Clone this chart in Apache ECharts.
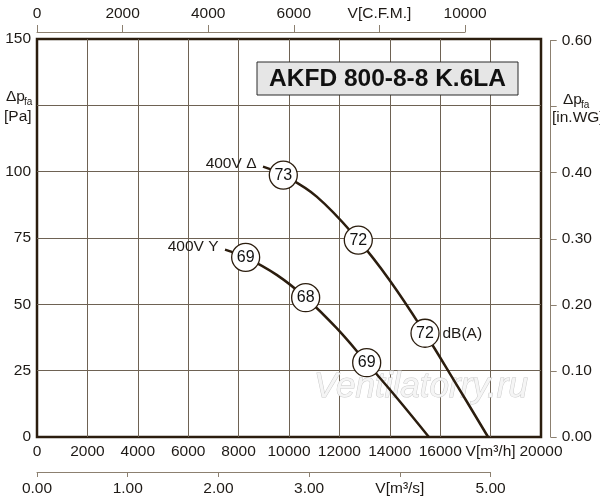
<!DOCTYPE html>
<html>
<head>
<meta charset="utf-8">
<script src="https://cdn.jsdelivr.net/npm/echarts@6/dist/echarts.min.js"></script>
<style>
  html, body { margin: 0; padding: 0; background: #fff; }
  #main { width: 600px; height: 500px; }
</style>
</head>
<body>
<div id="main"></div>
<script>
// fan curves: airflow [m3/h], static pressure [Pa]
var curveDelta = [[8968, 101.9], [9774, 98.7], [11099, 90.6], [12750, 74.2], [14000, 59.0], [15397, 39.1], [16600, 20.5], [17900, 0]];
var curveStar = [[7460, 70.6], [8280, 67.7], [9512, 61.1], [10661, 52.5], [11892, 41.0], [13083, 28.0], [14300, 14.5], [15550, 0]];

// sound level markers: airflow, pressure, dB(A)
var noiseDelta = [[9774, 98.7, 73], [12750, 74.2, 72], [15397, 39.1, 72]];
var noiseStar = [[8280, 67.7, 69], [10661, 52.5, 68], [13083, 28.0, 69]];

// curve names and unit note, placed at points of the curves
var curveNames = [[8968, 101.9, '400V Δ'], [7460, 70.6, '400V Y']];
var unitNote = [[15397, 39.1, 'dB(A)']];

// tick labels
var flowLabels = ['0', '2000', '4000', '6000', '8000', '10000', '12000', '14000', '16000', 'V[m³/h]', '20000'];
var cfmLabels = ['0', '2000', '4000', '6000', 'V[C.F.M.]', '10000'];
var m3sLabels = ['0.00', '1.00', '2.00', '3.00', 'V[m³/s]', '5.00'];
var paLabels = ['0', '25', '50', '75', '100', '', '150'];
var inwgLabels = ['0.00', '0.10', '0.20', '0.30', '0.40', '', '0.60'];

var dark = '#2b1d0e';
var gridCol = '#6e6253';
var subCol = '#8c8070';
var txt = '#1e1a16';
var font = '"Liberation Sans", Arial, sans-serif';

var chart = echarts.init(document.getElementById('main'));

function lab(arr) {
  return function (v, i) { return arr[i] !== undefined ? arr[i] : ''; };
}

var option = {
  animation: false,
  backgroundColor: '#fff',
  textStyle: { fontFamily: font },
  grid: [
    { left: 37, top: 39, width: 504, height: 398, show: true, borderColor: dark, borderWidth: 2.5 },
    { left: 37, top: 31, width: 428.1, height: 1 },
    { left: 37, top: 471, width: 453.6, height: 1 },
    { left: 550.7, top: 40.5, width: 1, height: 396.5 }
  ],
  xAxis: [
    {
      gridIndex: 0, type: 'value', min: 0, max: 20000, interval: 2000,
      axisLine: { show: false }, axisTick: { show: false },
      axisLabel: { margin: 7, fontSize: 15.5, color: txt, formatter: lab(flowLabels), showMinLabel: true, showMaxLabel: true },
      splitLine: { show: true, showMinLine: false, showMaxLine: false, lineStyle: { color: gridCol, width: 1 } }
    },
    {
      gridIndex: 1, type: 'value', position: 'top', min: 0, max: 10000, interval: 2000,
      axisLine: { show: true, lineStyle: { color: subCol, width: 1 } },
      axisTick: { show: true, length: 7, lineStyle: { color: subCol, width: 1 } },
      axisLabel: { margin: 9, fontSize: 15.5, color: txt, formatter: lab(cfmLabels), showMinLabel: true, showMaxLabel: true },
      splitLine: { show: false }
    },
    {
      gridIndex: 2, type: 'value', position: 'bottom', min: 0, max: 5, interval: 1,
      axisLine: { show: true, lineStyle: { color: subCol, width: 1 } },
      axisTick: { show: true, length: 5, lineStyle: { color: subCol, width: 1 } },
      axisLabel: { margin: 9, fontSize: 15.5, color: txt, formatter: lab(m3sLabels), showMinLabel: true, showMaxLabel: true },
      splitLine: { show: false }
    },
    { gridIndex: 3, type: 'value', min: 0, max: 1, show: false }
  ],
  yAxis: [
    {
      gridIndex: 0, type: 'value', min: 0, max: 150, interval: 25,
      axisLine: { show: false }, axisTick: { show: false },
      axisLabel: { margin: 6, fontSize: 15.5, color: txt, formatter: lab(paLabels), showMinLabel: true, showMaxLabel: true },
      splitLine: { show: true, showMinLine: false, showMaxLine: false, lineStyle: { color: gridCol, width: 1 } }
    },
    { gridIndex: 1, type: 'value', min: 0, max: 1, show: false },
    { gridIndex: 2, type: 'value', min: 0, max: 1, show: false },
    {
      gridIndex: 3, type: 'value', position: 'right', min: 0, max: 0.6, interval: 0.1,
      axisLine: { show: true, lineStyle: { color: subCol, width: 1 } },
      axisTick: { show: true, length: 6, lineStyle: { color: subCol, width: 1 } },
      axisLabel: { margin: 10, fontSize: 15.5, color: txt, formatter: lab(inwgLabels), showMinLabel: true, showMaxLabel: true },
      splitLine: { show: false }
    }
  ],
  graphic: [
    {
      type: 'text', silent: true, z: 1, x: 314, y: 370,
      style: { text: 'Ventilatorry.ru', font: 'italic 35px ' + font, fill: '#f5f5f5', stroke: '#cacaca', lineWidth: 1 }
    },
    {
      type: 'rect', z: 10, shape: { x: 257, y: 62, width: 261, height: 33 },
      style: { fill: '#e6e6e6', stroke: '#2b2b2b', lineWidth: 1 }
    },
    {
      type: 'text', z: 11, x: 387.5, y: 79,
      style: { text: 'AKFD 800-8-8 K.6LA', font: 'bold 24.5px ' + font, fill: '#111', align: 'center', verticalAlign: 'middle' }
    },
    { type: 'text', x: 6, y: 97, style: { text: 'Δp', font: '15.5px ' + font, fill: txt, verticalAlign: 'middle' } },
    { type: 'text', x: 24, y: 102, style: { text: 'fa', font: '10px ' + font, fill: txt, verticalAlign: 'middle' } },
    { type: 'text', x: 4, y: 117, style: { text: '[Pa]', font: '15.5px ' + font, fill: txt, verticalAlign: 'middle' } },
    { type: 'text', x: 563, y: 100, style: { text: 'Δp', font: '15.5px ' + font, fill: txt, verticalAlign: 'middle' } },
    { type: 'text', x: 581, y: 105, style: { text: 'fa', font: '10px ' + font, fill: txt, verticalAlign: 'middle' } },
    { type: 'text', x: 552, y: 118, style: { text: '[in.WG]', font: '15.5px ' + font, fill: txt, verticalAlign: 'middle' } }
  ],
  series: [
    {
      type: 'line', xAxisIndex: 0, yAxisIndex: 0, data: curveDelta, smooth: 0.4,
      showSymbol: false, lineStyle: { color: dark, width: 2.5 }, z: 3, silent: true
    },
    {
      type: 'line', xAxisIndex: 0, yAxisIndex: 0, data: curveStar, smooth: 0.4,
      showSymbol: false, lineStyle: { color: dark, width: 2.5 }, z: 3, silent: true
    },
    {
      type: 'scatter', xAxisIndex: 0, yAxisIndex: 0, data: noiseDelta.concat(noiseStar),
      symbol: 'circle', symbolSize: 28, z: 4,
      itemStyle: { color: '#fff', borderColor: dark, borderWidth: 1.3, opacity: 1 },
      label: { show: true, position: 'inside', fontSize: 16, color: '#111', formatter: function (p) { return p.value[2]; } }
    },
    {
      type: 'scatter', xAxisIndex: 0, yAxisIndex: 0, data: curveNames,
      symbolSize: 1, itemStyle: { color: 'rgba(0,0,0,0)', opacity: 1 }, z: 4,
      label: { show: true, position: 'left', distance: 6, offset: [0, -3], fontSize: 15.5, color: txt, formatter: function (p) { return p.value[2]; } }
    },
    {
      type: 'scatter', xAxisIndex: 0, yAxisIndex: 0, data: unitNote,
      symbolSize: 1, itemStyle: { color: 'rgba(0,0,0,0)', opacity: 1 }, z: 4,
      label: { show: true, position: 'right', distance: 17, fontSize: 15.5, color: txt, formatter: function (p) { return p.value[2]; } }
    }
  ]
};

chart.setOption(option);
</script>
</body>
</html>
